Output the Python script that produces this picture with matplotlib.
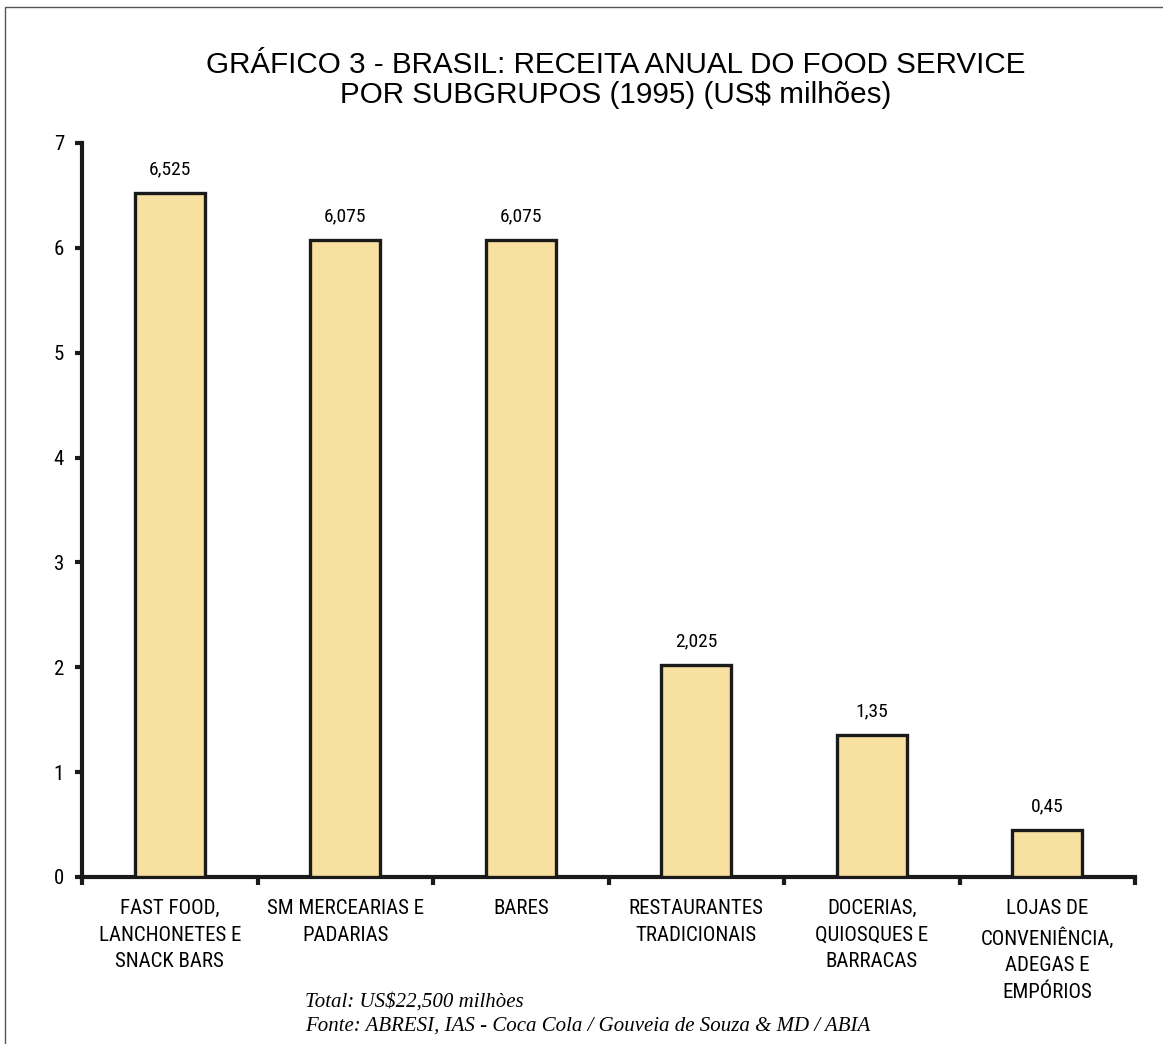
import matplotlib.pyplot as plt
import numpy as np
from matplotlib.patches import Rectangle
import logging

logging.getLogger('matplotlib.font_manager').setLevel(logging.ERROR)

categories = ["FAST FOOD,\nLANCHONETES E\nSNACK BARS", "SM MERCEARIAS E\nPADARIAS", "BARES",
              "RESTAURANTES\nTRADICIONAIS", "DOCERIAS,\nQUIOSQUES E\nBARRACAS",
              "LOJAS DE\nCONVENIÊNCIA,\nADEGAS E\nEMPÓRIOS"]
values = [6.525, 6.075, 6.075, 2.025, 1.35, 0.45]
value_labels = ["6,525", "6,075", "6,075", "2,025", "1,35", "0,45"]
yticks = [0, 1, 2, 3, 4, 5, 6, 7]

narrow = ['Liberation Sans Narrow', 'Roboto Condensed', 'Arial Narrow', 'Roboto', 'DejaVu Sans']

W, H = 1163, 1044
fig = plt.figure(figsize=(W / 100, H / 100), dpi=100)

# outer frame
fig.patches.append(Rectangle((5 / W, -0.1), 1.2, 1 - 7 / H + 0.1, transform=fig.transFigure,
                             fill=False, edgecolor='#555555', linewidth=1.0))

ax = fig.add_axes([82 / W, 1 - 877 / H, (1135 - 82) / W, (877 - 143) / H])
x = np.arange(len(values))
ax.bar(x, values, width=0.4, color='#F8E0A0', edgecolor='#1a1a1a', linewidth=2.4, zorder=3)
for xi, v, lab in zip(x, values, value_labels):
    ax.text(xi, v + 0.14, lab, ha='center', va='bottom', fontsize=14, family=narrow)

ax.set_xlim(-0.5, len(values) - 0.5)
ax.set_ylim(0, 7)
ax.set_yticks(yticks)
ax.set_yticklabels([str(t) for t in yticks], fontsize=15, family=narrow)
ax.set_xticks(np.arange(len(values) + 1) - 0.5)
ax.set_xticklabels([])
ax.set_xticks(x, minor=True)
ax.set_xticklabels(categories, minor=True, fontsize=15, family=narrow, linespacing=1.5, va='top')
ax.tick_params(axis='x', which='minor', length=0, pad=16)
ax.tick_params(axis='x', which='major', length=6, width=3, direction='out', color='#1a1a1a')
ax.tick_params(axis='y', length=5, width=3, direction='out', color='#1a1a1a', pad=8)
for s in ['top', 'right']:
    ax.spines[s].set_visible(False)
for s in ['left', 'bottom']:
    ax.spines[s].set_linewidth(3)
    ax.spines[s].set_color('#1a1a1a')

fig.text(616 / W, 1 - 80 / H, "GRÁFICO 3 - BRASIL: RECEITA ANUAL DO FOOD SERVICE\nPOR SUBGRUPOS (1995) (US$ milhões)",
         ha='center', va='center', fontsize=21.3, family='Liberation Sans', linespacing=1.1)
fig.text(305 / W, 1 - 1002 / H, "Total: US$22,500 milhòes", ha='left', va='center',
         fontsize=15, family='Liberation Serif', style='italic')
fig.text(305 / W, 1 - 1026 / H, "Fonte: ABRESI, IAS - Coca Cola / Gouveia de Souza & MD / ABIA", ha='left',
         va='center', fontsize=15, family='Liberation Serif', style='italic')

fig.savefig('out.png', dpi=100)
